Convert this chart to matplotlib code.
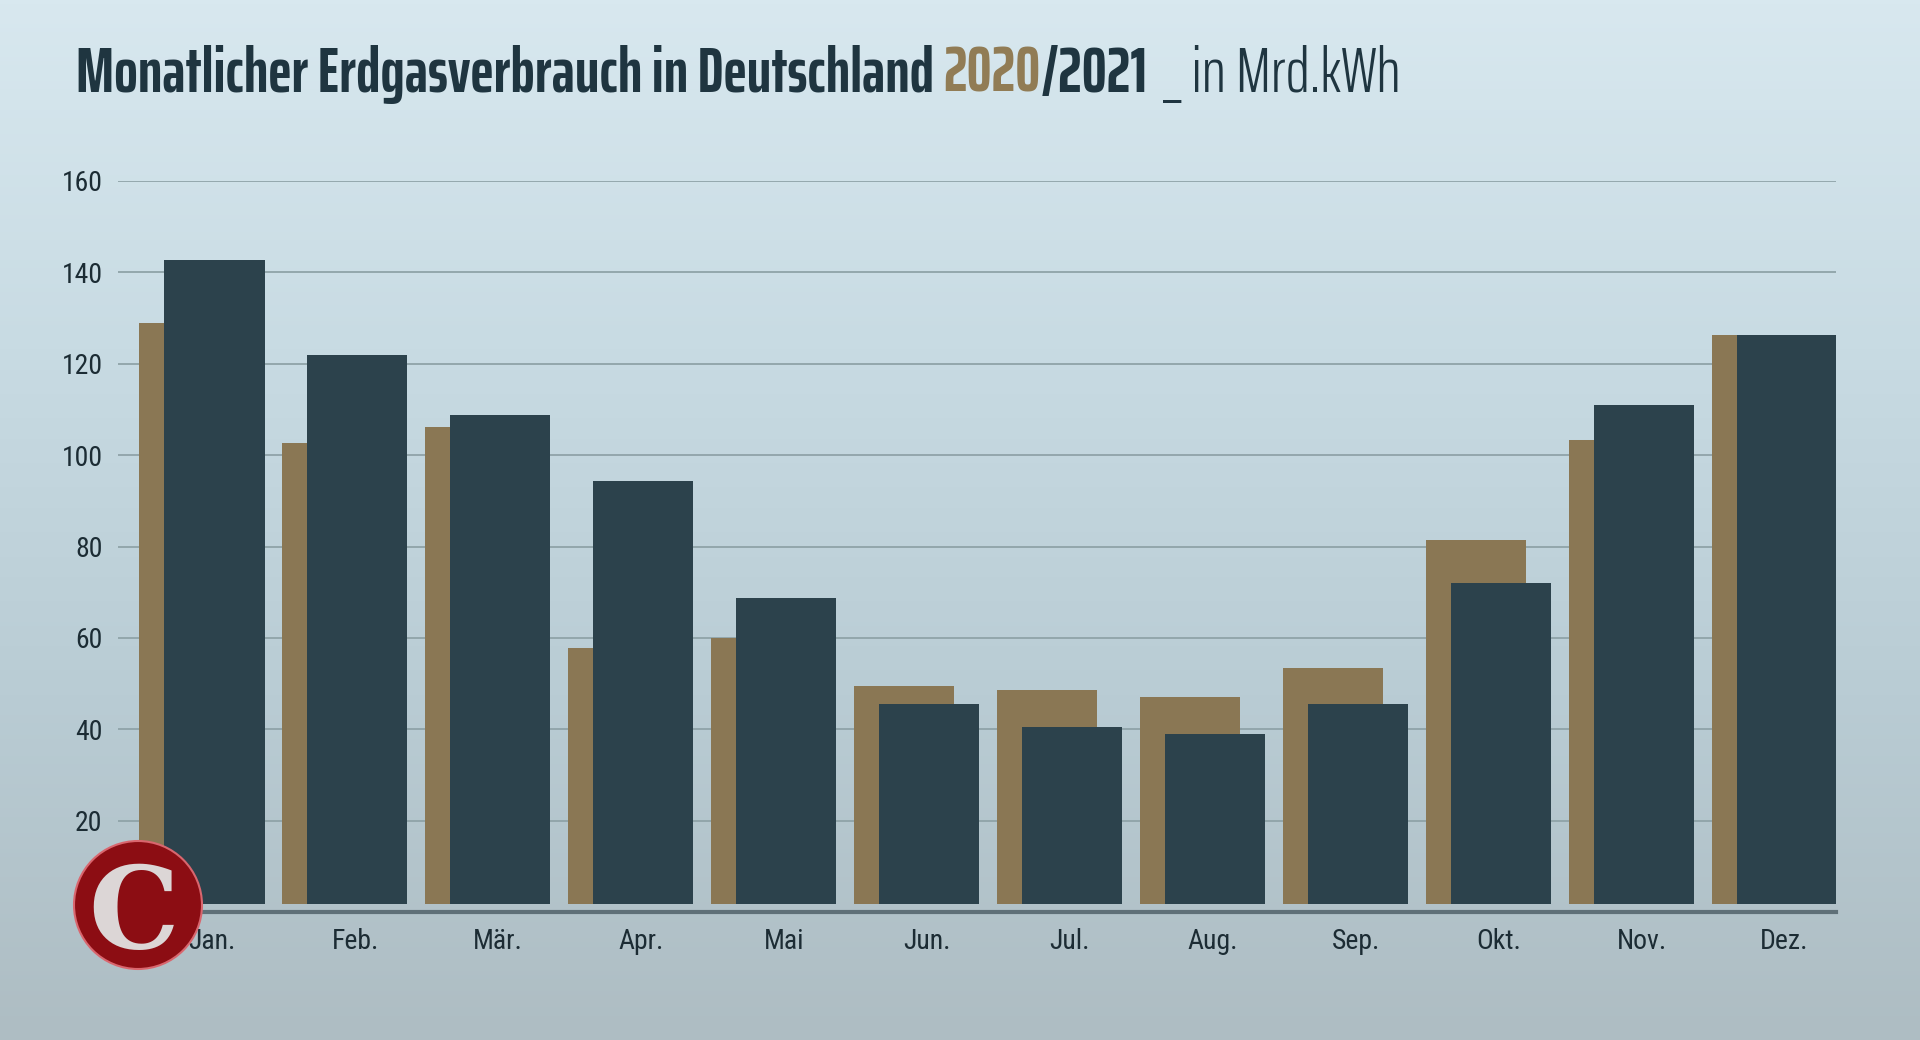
import numpy as np
import matplotlib
matplotlib.use("Agg")
import matplotlib.pyplot as plt
from matplotlib import font_manager as fm
from matplotlib.colors import LinearSegmentedColormap
from matplotlib.patches import Circle

months = ["Jan.", "Feb.", "Mär.", "Apr.", "Mai", "Jun.", "Jul.", "Aug.", "Sep.", "Okt.", "Nov.", "Dez."]
v2020 = [128.9, 102.6, 106.1, 57.8, 60, 49.5, 48.7, 47.1, 53.3, 81.4, 103.4, 126.2]
v2021 = [142.6, 121.9, 108.8, 94.3, 68.8, 45.5, 40.4, 39, 45.5, 72, 110.9, 126.2]
yticks = [20, 40, 60, 80, 100, 120, 140, 160]
bar_base = 1.7

names = {f.name for f in fm.fontManager.ttflist}
tick_font = next(n for n in ["Roboto Condensed", "Sofia Sans Condensed", "Saira ExtraCondensed", "DejaVu Sans"] if n in names)
title_font = "Saira ExtraCondensed"

W, H = 1920, 1040
fig = plt.figure(figsize=(W/100, H/100), dpi=100)
bg = fig.add_axes([0, 0, 1, 1], zorder=0)
bgcm = LinearSegmentedColormap.from_list("bg", ["#d8e8ef", "#c8dbe3", "#b9ccd4", "#aebdc3"])
bg.imshow(np.linspace(0, 1, 256)[:, None], aspect="auto", cmap=bgcm, extent=[0, 1, 0, 1])
bg.axis("off")

left, right = 118/W, 1836/W
bottom, top = 1 - 912/H, 1 - 181/H
ax = fig.add_axes([left, bottom, right-left, top-bottom], zorder=1)
ax.patch.set_alpha(0)
ax.set_ylim(0, 160)
ax.set_xlim(-0.66, 11.36)
x = np.arange(12)
ax.bar(x - 0.16, np.array(v2020) - bar_base, bottom=bar_base, width=0.70, color="#8a7754", zorder=2)
ax.bar(x + 0.015, np.array(v2021) - bar_base, bottom=bar_base, width=0.70, color="#2c424c", zorder=3)
ax.set_yticks(yticks)
ax.set_xticks(x)
ax.set_xticklabels(months)
ax.grid(axis="y", color="#8fa3a8", lw=1.3, zorder=1)
ax.set_axisbelow(True)
for s in ["top", "right", "left"]:
    ax.spines[s].set_visible(False)
ax.spines["bottom"].set_color("#5f7078")
ax.spines["bottom"].set_linewidth(3)
ax.tick_params(length=0)
ax.tick_params(axis="x", pad=11.5, labelsize=20, labelcolor="#1c2c34")
ax.tick_params(axis="y", pad=11, labelsize=20, labelcolor="#1c2c34")
for t in ax.get_xticklabels() + ax.get_yticklabels():
    t.set_family(tick_font)

title_y = 1 - 92/H
r = fig.canvas.get_renderer()
dark = "#1f3540"
ts = 45
t1 = fig.text(76/W, title_y, "Monatlicher Erdgasverbrauch in Deutschland ", color=dark, fontweight="bold", fontsize=ts, family=title_font, va="baseline", zorder=5)
xp = 76/W + t1.get_window_extent(r).width/W
t2 = fig.text(xp, title_y, "2020", color="#917c55", fontweight="bold", fontsize=ts, family=title_font, va="baseline", zorder=5)
xp += t2.get_window_extent(r).width/W
t3 = fig.text(xp, title_y, "/2021", color=dark, fontweight="bold", fontsize=ts, family=title_font, va="baseline", zorder=5)
fig.text(1163/W, title_y, "_ in Mrd.kWh", color=dark, fontsize=ts, fontweight=300, family=title_font, va="baseline", zorder=5)

logo = fig.add_axes([0, 0, 1, 1], zorder=4)
logo.set_xlim(0, W); logo.set_ylim(H, 0); logo.axis("off")
logo.add_patch(Circle((138, 905), 64, facecolor="#8c0d13", edgecolor="#d9666e", lw=1.5))
logo.text(134, 905, "C", family="DejaVu Serif", fontweight="bold", fontsize=82, color="#dcd6d6", ha="center", va="center_baseline")
fig.savefig("out.png", dpi=100)
